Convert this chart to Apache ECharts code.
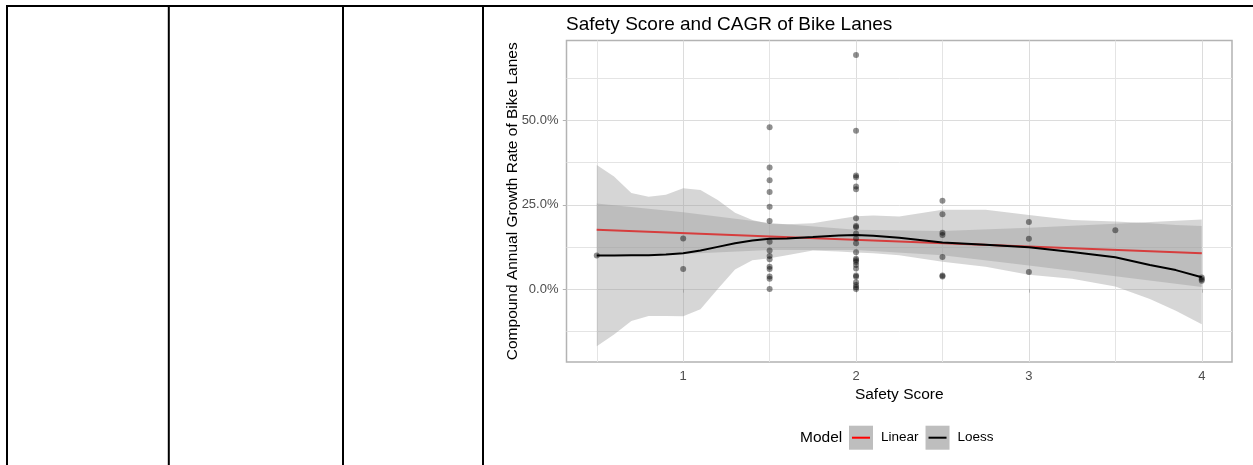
<!DOCTYPE html>
<html><head><meta charset="utf-8">
<script src="https://cdn.jsdelivr.net/npm/echarts@6/dist/echarts.min.js"></script>
<style>html,body{margin:0;padding:0;background:#fff}#c{width:1253px;height:465px}</style>
</head><body><div id="c"></div>
<script>
// ---- data ----
const scores = [0.5, 1, 1.5, 2, 2.5, 3, 3.5, 4];
const cagrByScore = [
  [9.9],
  [15.0, 5.9],
  [48.0, 36.1, 32.3, 28.8, 24.4, 20.2, 14.0, 11.4, 9.8, 8.8, 6.6, 5.9, 3.7, 3.0, 0.0],
  [69.5, 47.0, 33.7, 33.2, 30.4, 29.6, 21.0, 18.7, 18.3, 16.5, 15.0, 13.6, 10.9, 9.0, 8.5, 8.0, 7.1, 6.1, 4.0, 3.6, 2.0, 1.2, 0.5, 0.0],
  [26.2, 22.2, 16.7, 16.0, 9.5, 4.0, 3.7],
  [19.9, 14.9, 5.0],
  [17.4],
  [3.4, 2.9, 2.4]
];
const linX = [0.5, 4];
const linY = [17.6, 10.6];
const linBandX  = [0.5, 1, 1.5, 2, 2.5, 3, 3.5, 4];
const linBandLo = [9.8, 10.4, 11.6, 11.6, 10.0, 7.0, 3.8, 0.6];
const linBandHi = [25.4, 22.8, 19.6, 17.6, 17.2, 18.2, 19.4, 20.6];
const loessX  = [0.5, 0.6, 0.7, 0.8, 0.9, 1.0, 1.1, 1.2, 1.3, 1.4, 1.5, 1.6, 1.75, 1.9, 2.0, 2.1, 2.25, 2.5, 2.75, 3.0, 3.25, 3.5, 3.7, 3.85, 4.0];
const loessY  = [9.9, 9.9, 10.0, 10.0, 10.2, 10.6, 11.4, 12.5, 13.6, 14.4, 14.9, 15.0, 15.4, 15.9, 16.0, 15.8, 15.2, 13.8, 13.1, 12.4, 11.0, 9.4, 7.1, 5.6, 3.5];
const loessLo = [-17.0, -13.5, -9.5, -8.0, -8.0, -8.1, -6.0, 0.0, 5.8, 8.5, 9.1, 10.0, 11.4, 11.1, 10.8, 10.6, 10.0, 8.1, 6.6, 4.2, 3.0, 0.7, -3.0, -6.5, -10.5];
const loessHi = [36.8, 33.4, 28.5, 27.4, 28.0, 29.9, 29.4, 26.4, 22.6, 20.5, 19.3, 19.2, 19.5, 20.8, 21.6, 21.8, 21.5, 23.5, 23.5, 22.0, 20.5, 20.0, 19.5, 19.0, 18.7];
const xTicks = [1, 2, 3, 4];
const yTicks = [0, 25, 50];
const xMinor = [0.5, 1.5, 2.5, 3.5];
const yMinor = [-12.5, 12.5, 37.5, 62.5];

const FONT = 'Liberation Sans, Arial, sans-serif';
const points = [];
scores.forEach((s, i) => cagrByScore[i].forEach(v => points.push([s, v])));

function bandSeries(name, xs, lo, hi, z) {
  const rows = xs.map((x, i) => [x, lo[i], hi[i]]);
  return {
    type: 'custom', name: name, z: z, silent: true,
    coordinateSystem: 'cartesian2d',
    data: rows, encode: { x: 0, y: [1, 2] },
    renderItem: function (params, api) {
      if (params.dataIndex !== 0) return null;
      const pts = [];
      rows.forEach(r => pts.push(api.coord([r[0], r[2]])));
      for (let i = rows.length - 1; i >= 0; i--) pts.push(api.coord([rows[i][0], rows[i][1]]));
      return { type: 'polygon', shape: { points: pts }, style: { fill: 'rgba(153,153,153,0.4)' } };
    }
  };
}

const boxIcon = 'path://M0,0L24,0L24,24L0,24Z M27,0 M27,24';
const lineIcon = 'path://M0,0 M27,24 M3,11L21,11L21,13L3,13Z';

const chart = echarts.init(document.getElementById('c'));
chart.setOption({
  animation: false,
  backgroundColor: '#fff',
  textStyle: { fontFamily: FONT },
  title: [
    { text: 'Safety Score and CAGR of Bike Lanes', left: 566, top: 15, padding: 0,
      textStyle: { fontFamily: FONT, fontSize: 19, fontWeight: 'normal', color: '#000' } },
    { text: 'Model', left: 800, top: 430, padding: 0,
      textStyle: { fontFamily: FONT, fontSize: 15.5, fontWeight: 'normal', color: '#000' } }
  ],
  legend: [
    { left: 849, top: 425.7, padding: 0, itemWidth: 27, itemHeight: 24, itemGap: 7, z: 4,
      selectedMode: false,
      textStyle: { fontFamily: FONT, fontSize: 13.5, color: '#000' },
      data: [{ name: 'Linear', icon: boxIcon, itemStyle: { color: '#bebebe' } },
             { name: 'Loess', icon: boxIcon, itemStyle: { color: '#bebebe' } }] },
    { left: 849, top: 425.7, padding: 0, itemWidth: 27, itemHeight: 24, itemGap: 7, z: 5,
      selectedMode: false,
      textStyle: { fontFamily: FONT, fontSize: 13.5, color: 'rgba(0,0,0,0)' },
      data: [{ name: 'Linear', icon: lineIcon, itemStyle: { color: '#ff0000' } },
             { name: 'Loess', icon: lineIcon, itemStyle: { color: '#000000' } }] }
  ],
  grid: { left: 566.5, top: 40.5, width: 665.5, height: 321.5, show: true,
          borderColor: '#b3b3b3', borderWidth: 1.5, backgroundColor: 'transparent' },
  xAxis: {
    type: 'value', min: 0.325, max: 4.175,
    name: 'Safety Score', nameLocation: 'middle', nameGap: 25, nameMoveOverlap: false,
    nameTextStyle: { fontFamily: FONT, fontSize: 15.5, color: '#000' },
    axisLine: { show: false },
    axisTick: { show: true, customValues: xTicks, length: 3.7, lineStyle: { color: '#b3b3b3', width: 1 } },
    axisLabel: { customValues: xTicks, margin: 8, color: '#4d4d4d', fontFamily: FONT, fontSize: 13,
                 formatter: v => String(v) },
    splitLine: { show: true, lineStyle: { color: '#dcdcdc', width: 1 } }
  },
  yAxis: {
    type: 'value', min: -21.7, max: 73.8,
    name: 'Compound Annual Growth Rate of Bike Lanes', nameLocation: 'middle', nameGap: 46, nameMoveOverlap: false,
    nameTextStyle: { fontFamily: FONT, fontSize: 15.5, color: '#000' },
    axisLine: { show: false },
    axisTick: { show: true, customValues: yTicks, length: 3.7, lineStyle: { color: '#b3b3b3', width: 1 } },
    axisLabel: { customValues: yTicks, margin: 8, color: '#4d4d4d', fontFamily: FONT, fontSize: 13,
                 formatter: v => v.toFixed(1) + '%' },
    splitLine: { show: true, lineStyle: { color: '#dcdcdc', width: 1 } }
  },
  series: [
    bandSeries('Linear', linBandX, linBandLo, linBandHi, 2),
    bandSeries('Loess', loessX, loessLo, loessHi, 4),
    { type: 'scatter', name: 'points', z: 6, silent: true, symbolSize: 6,
      itemStyle: { color: 'rgba(0,0,0,0.55)' }, data: points,
      markLine: { silent: true, z: 0, symbol: ['none', 'none'], label: { show: false },
        lineStyle: { color: '#e4e4e4', width: 1, type: 'solid' },
        data: xMinor.map(v => ({ xAxis: v })).concat(yMinor.map(v => ({ yAxis: v }))) } },
    { type: 'line', name: 'Linear', z: 3, silent: true, symbol: 'none', showSymbol: false,
      lineStyle: { color: '#ff0000', width: 2 }, itemStyle: { color: '#ff0000' },
      data: linX.map((x, i) => [x, linY[i]]) },
    { type: 'line', name: 'Loess', z: 5, silent: true, symbol: 'none', showSymbol: false,
      lineStyle: { color: '#000000', width: 2 }, itemStyle: { color: '#000000' },
      data: loessX.map((x, i) => [x, loessY[i]]) }
  ],
  graphic: [
    { type: 'line', silent: true, shape: { x1: 6, y1: 6, x2: 1253, y2: 6 }, style: { stroke: '#000', lineWidth: 2 } },
    { type: 'line', silent: true, shape: { x1: 7, y1: 5, x2: 7, y2: 465 }, style: { stroke: '#000', lineWidth: 2 } },
    { type: 'line', silent: true, shape: { x1: 168.8, y1: 5, x2: 168.8, y2: 465 }, style: { stroke: '#000', lineWidth: 2 } },
    { type: 'line', silent: true, shape: { x1: 343, y1: 5, x2: 343, y2: 465 }, style: { stroke: '#000', lineWidth: 2 } },
    { type: 'line', silent: true, shape: { x1: 483, y1: 5, x2: 483, y2: 465 }, style: { stroke: '#000', lineWidth: 2 } }
  ]
});
</script></body></html>
